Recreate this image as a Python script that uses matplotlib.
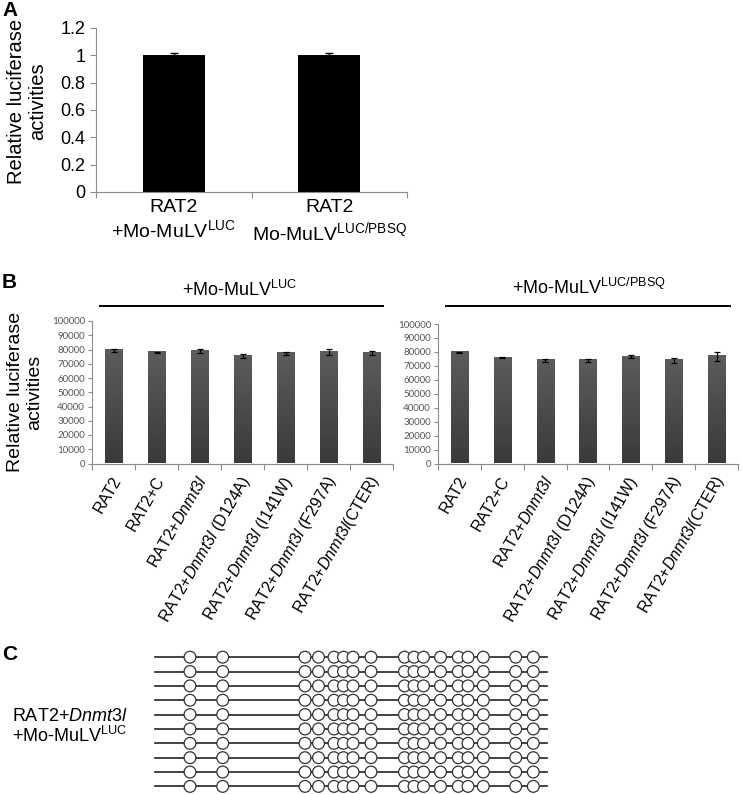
import numpy as np
import matplotlib.pyplot as plt
from matplotlib.lines import Line2D
from matplotlib.transforms import ScaledTranslation
from matplotlib.colors import LinearSegmentedColormap

plt.rcParams['font.family'] = ['Liberation Sans', 'DejaVu Sans']
plt.rcParams['mathtext.fontset'] = 'custom'
plt.rcParams['mathtext.rm'] = 'Liberation Sans'
plt.rcParams['mathtext.it'] = 'Liberation Sans:italic'

W, H = 742, 794

# ---- dati pannello A
a_labels = ['RAT2\n+Mo-MuLV$^{\\mathrm{LUC}}$', 'RAT2\nMo-MuLV$^{\\mathrm{LUC/PBSQ}}$']
a_values = [1.0, 1.004]
a_errors = [0.015, 0.012]
a_yticks = [0, 0.2, 0.4, 0.6, 0.8, 1.0, 1.2]
a_yticklabels = ['0', '0.2', '0.4', '0.6', '0.8', '1', '1.2']

# ---- dati pannello B
b_labels = ['RAT2', 'RAT2+C', 'RAT2+$\\mathit{Dnmt3l}$',
            'RAT2+$\\mathit{Dnmt3l}$ (D124A)', 'RAT2+$\\mathit{Dnmt3l}$ (I141W)',
            'RAT2+$\\mathit{Dnmt3l}$ (F297A)', 'RAT2+$\\mathit{Dnmt3l}$(CTER)']
b_luc_values = [79500, 78000, 79000, 75200, 77200, 78200, 77500]
b_luc_errors = [1000, 300, 1300, 1400, 1200, 1900, 1400]
b_pbsq_values = [79700, 75800, 74000, 74000, 76500, 74000, 77000]
b_pbsq_errors = [500, 200, 900, 1000, 1200, 1900, 3200]
b_titles = ['+Mo-MuLV$^{\\mathrm{LUC}}$', '+Mo-MuLV$^{\\mathrm{LUC/PBSQ}}$']
b_yticks = np.arange(0, 100001, 10000)

# ---- dati pannello C (posizioni CpG lungo l'amplicone, 10 cloni tutti non metilati)
cpg_pos = [35, 67.7, 150, 163.5, 179, 188.5, 198, 216, 249.5, 259, 268.5,
           285.5, 303.3, 313, 328.3, 360.7, 378.3]
amplicon_len = 392
n_clones = 10
methylated = np.zeros((n_clones, len(cpg_pos)), dtype=bool)
c_label = 'RAT2+$\\mathit{Dnmt3l}$\n+Mo-MuLV$^{\\mathrm{LUC}}$'


def fx(x):
    return x / W


def fy(y):
    return 1 - y / H


def excel_axes(ax, n, grey='#8c8c8c'):
    for s in ['top', 'right']:
        ax.spines[s].set_visible(False)
    ax.spines['left'].set_color(grey)
    ax.spines['bottom'].set_color(grey)
    ax.set_xlim(-0.5, n - 0.5)
    ax.set_xticks(np.arange(n + 1) - 0.5)
    ax.set_xticklabels([])
    ax.tick_params(axis='x', which='major', length=4, color=grey, direction='out')
    ax.tick_params(axis='y', length=4, color=grey, direction='out')
    ax.set_xticks(np.arange(n), minor=True)
    ax.tick_params(axis='x', which='minor', length=0)


fig = plt.figure(figsize=(W / 100, H / 100), dpi=100)

# ================= Pannello A
axA = fig.add_axes([fx(96), fy(192), (407 - 96) / W, (192 - 28) / H])
excel_axes(axA, 2)
axA.bar(range(2), a_values, width=0.4, color='black', zorder=2)
axA.errorbar(range(2), a_values, yerr=a_errors, fmt='none', ecolor='black',
             elinewidth=1, capsize=3, capthick=1, zorder=3)
axA.set_ylim(0, 1.2)
axA.set_yticks(a_yticks)
axA.set_yticklabels(a_yticklabels, fontsize=13)
axA.set_xticklabels(a_labels, minor=True, fontsize=14, linespacing=1.2)
axA.tick_params(axis='x', which='minor', pad=5)
fig.text(fx(27), fy(101), 'Relative luciferase\nactivities', rotation=90,
         ha='center', va='center', fontsize=14.5, multialignment='center', linespacing=1.2)
fig.text(fx(2), fy(11), 'A', fontsize=15, fontweight='bold', ha='left', va='center')


# ================= Pannello B
bar_cmap = LinearSegmentedColormap.from_list('g', ['#3a3a3a', '#5c5c5c'])


def gradient_bars(ax, vals, width=0.4):
    grad = np.linspace(0, 1, 100).reshape(-1, 1)
    for i, v in enumerate(vals):
        ax.imshow(grad, extent=[i - width / 2, i + width / 2, 0, v], origin='lower',
                  cmap=bar_cmap, aspect='auto', zorder=2)


boxes = [(92, 393, 321), (438, 738, 324)]
datasets = [(b_luc_values, b_luc_errors), (b_pbsq_values, b_pbsq_errors)]
for (x0, x1, ytop), (vals, errs) in zip(boxes, datasets):
    ax = fig.add_axes([fx(x0), fy(463.5), (x1 - x0) / W, (463.5 - ytop) / H])
    excel_axes(ax, 7)
    gradient_bars(ax, vals)
    ax.errorbar(range(7), vals, yerr=errs, fmt='none', ecolor='black',
                elinewidth=0.9, capsize=2.2, capthick=0.9, zorder=3)
    ax.set_xlim(-0.5, 6.5)
    ax.set_ylim(0, 100000)
    ax.set_yticks(b_yticks)
    ax.set_yticklabels([str(v) for v in b_yticks], fontsize=7, color='#555555',
                       family=['Lato', 'DejaVu Sans'])
    ax.tick_params(axis='y', pad=2, length=3)
    labs = ax.set_xticklabels(b_labels, minor=True, fontsize=11.5, rotation=60,
                              ha='right', va='center', rotation_mode='anchor')
    ax.tick_params(axis='x', which='minor', pad=10)
    for lab in labs:
        lab.set_transform(lab.get_transform() + ScaledTranslation(4 / 100, 0, fig.dpi_scale_trans))

fig.text(fx(240), fy(290), b_titles[0], ha='center', va='center', fontsize=13)
fig.text(fx(589), fy(288), b_titles[1], ha='center', va='center', fontsize=13)
fig.add_artist(Line2D([fx(100), fx(383)], [fy(305.7), fy(305.7)], color='black', lw=1.4))
fig.add_artist(Line2D([fx(446), fx(730)], [fy(305.7), fy(305.7)], color='black', lw=1.4))
fig.text(fx(25), fy(392), 'Relative luciferase\nactivities', rotation=90,
         ha='center', va='center', fontsize=14, multialignment='center', linespacing=1.2)
fig.text(fx(2), fy(283), 'B', fontsize=15, fontweight='bold', ha='left', va='center')

# ================= Pannello C
axC = fig.add_axes([fx(155), fy(794), (547 - 155) / W, (794 - 650) / H])
axC.set_xlim(0, amplicon_len)
axC.set_ylim(n_clones - 0.5 + 0.03, -0.5)
axC.axis('off')
for r in range(n_clones):
    axC.plot([0, amplicon_len], [r, r], color='#222222', lw=1.2, zorder=1, clip_on=False)
    face = ['black' if m else 'white' for m in methylated[r]]
    axC.scatter(cpg_pos, [r] * len(cpg_pos), s=72, facecolors=face, edgecolors='#333333',
                linewidths=0.9, zorder=2, clip_on=False)
fig.text(fx(12), fy(727), c_label, ha='left', va='center', fontsize=13, linespacing=1.0)
fig.text(fx(2), fy(655), 'C', fontsize=15, fontweight='bold', ha='left', va='center')

fig.savefig('out.png', dpi=100)
